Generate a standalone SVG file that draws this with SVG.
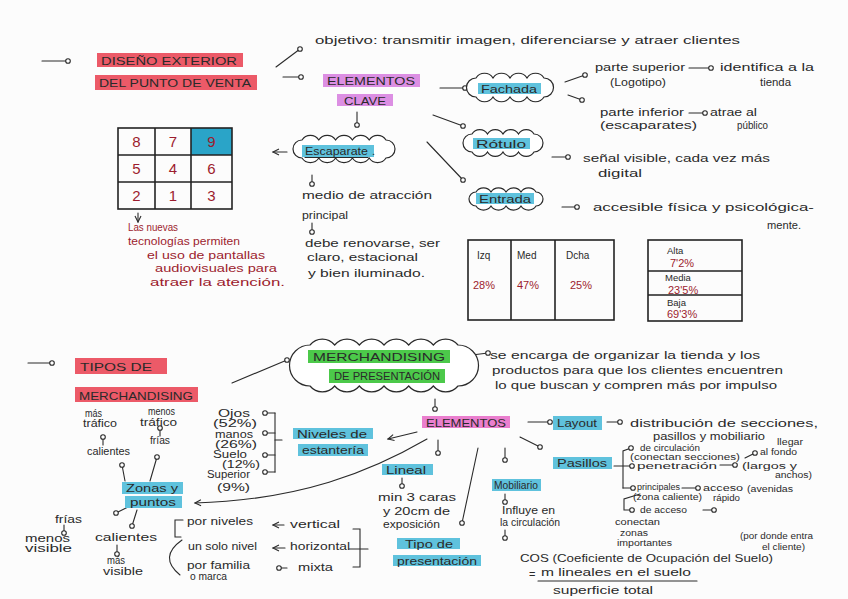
<svg xmlns="http://www.w3.org/2000/svg" width="848" height="599" viewBox="0 0 848 599">
<defs>
<marker id="o" markerWidth="8" markerHeight="8" refX="4" refY="4" markerUnits="userSpaceOnUse"><circle cx="4" cy="4" r="2.3" fill="#fff" stroke="#2a2a2a" stroke-width="1.1"/></marker>
<marker id="a" markerWidth="10" markerHeight="10" refX="7" refY="4" orient="auto" markerUnits="userSpaceOnUse"><path d="M1 1 L7 4 L1 7" fill="none" stroke="#2a2a2a" stroke-width="1.1"/></marker>
</defs>
<style>
text{font-family:"Liberation Sans",Arial,sans-serif;font-size:11px;fill:#2a2a2a}
.r{fill:#9c1c2e}
.s{font-size:8.5px}
.m{font-size:10px}
.cap{font-size:11.5px}
.num{font-size:15px;fill:#9c1c2e}
.ln{fill:none;stroke:#2a2a2a;stroke-width:1.1;stroke-linecap:round}
.cl{fill:#fff;stroke:#2a2a2a;stroke-width:1.2}
.hr{fill:#ec5a68}
.hp{fill:#dc8fe3}
.hm{fill:#ea7fce}
.hb{fill:#5fc2dd}
.hg{fill:#4cc94a}
.grid{fill:none;stroke:#222;stroke-width:1.6}
</style>
<rect x="0" y="0" width="848" height="599" fill="#fcfcfc"/>

<g id="connectors">
<line class="ln" x1="42" y1="61" x2="68" y2="61" marker-end="url(#o)"/>
<line class="ln" x1="276" y1="67" x2="300" y2="49" marker-end="url(#o)"/>
<line class="ln" x1="283" y1="77" x2="301" y2="77" marker-end="url(#o)"/>
<line class="ln" x1="440" y1="88" x2="465" y2="88" marker-end="url(#o)"/>
<line class="ln" x1="565" y1="82" x2="585" y2="75" marker-end="url(#o)"/>
<line class="ln" x1="568" y1="95" x2="582" y2="100" marker-end="url(#o)"/>
<line class="ln" x1="689" y1="68" x2="711" y2="68" marker-end="url(#o)"/>
<line class="ln" x1="689" y1="113" x2="705" y2="113" marker-end="url(#o)"/>
<line class="ln" x1="433" y1="115" x2="463" y2="126" marker-end="url(#o)"/>
<line class="ln" x1="427" y1="142" x2="463" y2="180" marker-end="url(#o)"/>
<line class="ln" x1="552" y1="157" x2="568" y2="157" marker-end="url(#o)"/>
<line class="ln" x1="562" y1="207" x2="577" y2="207" marker-end="url(#o)"/>
<line class="ln" x1="357" y1="112" x2="357" y2="125" marker-end="url(#o)"/>
<line class="ln" x1="287" y1="152" x2="273" y2="152" marker-end="url(#a)"/>
<line class="ln" x1="312" y1="175" x2="312" y2="184" marker-end="url(#o)"/>
<line class="ln" x1="312" y1="223" x2="312" y2="232" marker-end="url(#o)"/>
<line class="ln" x1="138" y1="213" x2="138" y2="222" marker-end="url(#a)"/>

<line class="ln" x1="28" y1="363" x2="52" y2="363" marker-end="url(#o)"/>
<line class="ln" x1="232" y1="383" x2="287" y2="360" marker-end="url(#o)"/>
<line class="ln" x1="472" y1="355" x2="488" y2="353" marker-end="url(#o)"/>
<line class="ln" x1="435" y1="399" x2="435" y2="409" marker-end="url(#o)"/>
<line class="ln" x1="528" y1="422" x2="550" y2="422" marker-end="url(#o)"/>
<line class="ln" x1="607" y1="422" x2="620" y2="422" marker-end="url(#o)"/>
<line class="ln" x1="417" y1="432" x2="388" y2="439" marker-end="url(#a)"/>
<path class="ln" d="M427 439 C370 472 300 500 195 503" marker-end="url(#a)"/>
<line class="ln" x1="438" y1="440" x2="438" y2="453" marker-end="url(#o)"/>
<line class="ln" x1="478" y1="448" x2="462" y2="523" marker-end="url(#o)"/>
<line class="ln" x1="505" y1="448" x2="505" y2="460" marker-end="url(#o)"/>
<line class="ln" x1="520" y1="437" x2="540" y2="447" marker-end="url(#o)"/>
<line class="ln" x1="402" y1="478" x2="402" y2="486" marker-end="url(#o)"/>
<line class="ln" x1="505" y1="494" x2="505" y2="502" marker-end="url(#o)"/>
<line class="ln" x1="505" y1="530" x2="505" y2="538" marker-end="url(#o)"/>

<line class="ln" x1="275" y1="413" x2="265" y2="413" marker-end="url(#o)"/>
<line class="ln" x1="275" y1="433" x2="265" y2="433" marker-end="url(#o)"/>
<line class="ln" x1="275" y1="455" x2="265" y2="455" marker-end="url(#o)"/>
<line class="ln" x1="275" y1="472" x2="265" y2="472" marker-end="url(#o)"/>
<line class="ln" x1="275" y1="413" x2="275" y2="472"/>
<line class="ln" x1="275" y1="440" x2="282" y2="440"/>

<line class="ln" x1="125" y1="481" x2="122" y2="465" marker-end="url(#o)"/>
<line class="ln" x1="150" y1="481" x2="157" y2="457" marker-end="url(#o)"/>
<line class="ln" x1="103" y1="445" x2="103" y2="437" marker-end="url(#o)"/>
<line class="ln" x1="160" y1="436" x2="160" y2="428" marker-end="url(#o)"/>
<line class="ln" x1="128" y1="507" x2="116" y2="513" marker-end="url(#o)"/>
<line class="ln" x1="137" y1="510" x2="132" y2="526" marker-end="url(#o)"/>
<line class="ln" x1="64" y1="525" x2="64" y2="533" marker-end="url(#o)"/>
<line class="ln" x1="117" y1="545" x2="117" y2="554" marker-end="url(#o)"/>

<path class="ln" d="M183 520 L175 520 L175 537 L181 537"/>
<path class="ln" d="M182 540 Q158 557 180 575"/>
<line class="ln" x1="284" y1="525" x2="273" y2="525" marker-end="url(#a)"/>
<line class="ln" x1="285" y1="548" x2="273" y2="548" marker-end="url(#a)"/>
<line class="ln" x1="287" y1="568" x2="279" y2="568" marker-end="url(#o)"/>
<path class="ln" d="M353 529 L360 529 L360 567 L353 567"/>
<line class="ln" x1="349" y1="549" x2="368" y2="549"/>

<path class="ln" d="M614 466 L632 466" marker-end="url(#o)"/>
<path class="ln" d="M623 488 L623 451 L631 448" marker-end="url(#o)"/>
<path class="ln" d="M623 488 L633 488" marker-end="url(#o)"/>
<path class="ln" d="M640 494 L624 499 L624 510 L632 510" marker-end="url(#o)"/>
<line class="ln" x1="720" y1="465" x2="735" y2="465" marker-end="url(#o)"/>
<line class="ln" x1="745" y1="458" x2="755" y2="453" marker-end="url(#o)"/>
<line class="ln" x1="682" y1="488" x2="698" y2="488" marker-end="url(#o)"/>
<line class="ln" x1="703" y1="510" x2="714" y2="510" marker-end="url(#o)"/>
<line class="ln" x1="538" y1="581" x2="697" y2="581"/>
</g>

<g id="titulo-diseno">
<rect class="hr" x="97" y="53" width="146" height="14"/>
<rect class="hr" x="95" y="75" width="162" height="15"/>
<text class="cap" x="101" y="65" textLength="136" lengthAdjust="spacingAndGlyphs">DISEÑO EXTERIOR</text>
<text class="cap" x="99" y="87" textLength="152" lengthAdjust="spacingAndGlyphs">DEL PUNTO DE VENTA</text>
</g>

<g id="objetivo">
<text x="315" y="44" textLength="425" lengthAdjust="spacingAndGlyphs">objetivo: transmitir imagen, diferenciarse y atraer clientes</text>
</g>

<g id="elementos-clave">
<rect class="hp" x="323" y="74" width="97" height="13"/>
<rect class="hp" x="337" y="94" width="56" height="12"/>
<text x="327" y="85" textLength="88" lengthAdjust="spacingAndGlyphs">ELEMENTOS</text>
<text x="344" y="104.5" textLength="42" lengthAdjust="spacingAndGlyphs">CLAVE</text>
</g>

<g id="fachada">
<path class="cl" d="M476 78 a10 10 0 0 1 17 0 a10 10 0 0 1 17 0 a10 10 0 0 1 17 0 a10 10 0 0 1 17 0 a9.5 9.5 0 0 1 0 19 a10 10 0 0 1 -17 0 a10 10 0 0 1 -17 0 a10 10 0 0 1 -17 0 a10 10 0 0 1 -17 0 a9.5 9.5 0 0 1 0 -19 Z"/>
<rect class="hb" x="478" y="83" width="63" height="11"/>
<text x="481" y="92.5" textLength="56" lengthAdjust="spacingAndGlyphs">Fachada</text>
</g>

<g id="fachada-partes">
<text x="595" y="71" textLength="90" lengthAdjust="spacingAndGlyphs">parte superior</text>
<text x="720" y="71" textLength="94" lengthAdjust="spacingAndGlyphs">identifica a la</text>
<text x="610" y="86" textLength="56" lengthAdjust="spacingAndGlyphs">(Logotipo)</text>
<text x="760" y="86" textLength="31" lengthAdjust="spacingAndGlyphs">tienda</text>
<text x="600" y="116" textLength="84" lengthAdjust="spacingAndGlyphs">parte inferior</text>
<text x="710" y="116" textLength="47" lengthAdjust="spacingAndGlyphs">atrae al</text>
<text x="600" y="129" textLength="97" lengthAdjust="spacingAndGlyphs">(escaparates)</text>
<text x="737" y="129" textLength="31" lengthAdjust="spacingAndGlyphs">público</text>
</g>

<g id="rotulo">
<path class="cl" d="M472 134 a9 9 0 0 1 15.5 0 a9 9 0 0 1 15.5 0 a9 9 0 0 1 15.5 0 a9 9 0 0 1 15.5 0 a9 9 0 0 1 0 18 a9 9 0 0 1 -15.5 0 a9 9 0 0 1 -15.5 0 a9 9 0 0 1 -15.5 0 a9 9 0 0 1 -15.5 0 a9 9 0 0 1 0 -18 Z"/>
<rect class="hb" x="473" y="138" width="57" height="11"/>
<text x="476" y="147.5" textLength="50" lengthAdjust="spacingAndGlyphs">Rótulo</text>
</g>
<g id="rotulo-desc">
<text x="583" y="162" textLength="187" lengthAdjust="spacingAndGlyphs">señal visible, cada vez más</text>
<text x="598" y="177" textLength="44" lengthAdjust="spacingAndGlyphs">digital</text>
</g>

<g id="entrada">
<path class="cl" d="M476 192 a9 9 0 0 1 15 0 a9 9 0 0 1 15 0 a9 9 0 0 1 15 0 a9 9 0 0 1 15 0 a7 7 0 0 1 0 14 a9 9 0 0 1 -15 0 a9 9 0 0 1 -15 0 a9 9 0 0 1 -15 0 a9 9 0 0 1 -15 0 a7 7 0 0 1 0 -14 Z"/>
<rect class="hb" x="476" y="193" width="58" height="11"/>
<text x="479" y="202.5" textLength="52" lengthAdjust="spacingAndGlyphs">Entrada</text>
</g>
<g id="entrada-desc">
<text x="593" y="211" textLength="221" lengthAdjust="spacingAndGlyphs">accesible física y psicológica-</text>
<text x="767" y="229" textLength="34" lengthAdjust="spacingAndGlyphs">mente.</text>
</g>

<g id="escaparate">
<path class="cl" d="M302 140 a10 10 0 0 1 16.8 0 a10 10 0 0 1 16.8 0 a10 10 0 0 1 16.8 0 a10 10 0 0 1 16.8 0 a10 10 0 0 1 16.8 0 a9 9 0 0 1 0 18 a10 10 0 0 1 -16.8 0 a10 10 0 0 1 -16.8 0 a10 10 0 0 1 -16.8 0 a10 10 0 0 1 -16.8 0 a10 10 0 0 1 -16.8 0 a9 9 0 0 1 0 -18 Z"/>
<rect class="hb" x="302" y="145" width="72" height="12"/>
<text x="305" y="155" textLength="63" lengthAdjust="spacingAndGlyphs">Escaparate</text>
<line class="ln" x1="305" y1="157.5" x2="368" y2="157.5"/>
<text x="372" y="155">.</text>
</g>

<g id="escaparate-desc">
<text x="302" y="199" textLength="130" lengthAdjust="spacingAndGlyphs">medio de atracción</text>
<text x="302" y="219" textLength="46" lengthAdjust="spacingAndGlyphs">principal</text>
<text x="305" y="247" textLength="135" lengthAdjust="spacingAndGlyphs">debe renovarse, ser</text>
<text x="307" y="261" textLength="111" lengthAdjust="spacingAndGlyphs">claro, estacional</text>
<text x="308" y="277" textLength="117" lengthAdjust="spacingAndGlyphs">y bien iluminado.</text>
</g>

<g id="cuadricula">
<rect x="191" y="128" width="41" height="27" fill="#2aa4c8"/>
<rect class="grid" x="118" y="128" width="114" height="81"/>
<line class="grid" x1="155" y1="128" x2="155" y2="209"/>
<line class="grid" x1="191" y1="128" x2="191" y2="209"/>
<line class="grid" x1="118" y1="155" x2="232" y2="155"/>
<line class="grid" x1="118" y1="182" x2="232" y2="182"/>
<text class="num" x="136.5" y="147" text-anchor="middle">8</text>
<text class="num" x="173" y="147" text-anchor="middle">7</text>
<text class="num" x="211.5" y="147" text-anchor="middle">9</text>
<text class="num" x="136.5" y="174" text-anchor="middle">5</text>
<text class="num" x="173" y="174" text-anchor="middle">4</text>
<text class="num" x="211.5" y="174" text-anchor="middle">6</text>
<text class="num" x="136.5" y="201" text-anchor="middle">2</text>
<text class="num" x="173" y="201" text-anchor="middle">1</text>
<text class="num" x="211.5" y="201" text-anchor="middle">3</text>
</g>

<g id="nuevas-tecnologias">
<text class="r" x="128" y="231" textLength="50" lengthAdjust="spacingAndGlyphs">Las nuevas</text>
<text class="r" x="128" y="245" textLength="112" lengthAdjust="spacingAndGlyphs">tecnologías permiten</text>
<text class="r" x="147" y="259" textLength="118" lengthAdjust="spacingAndGlyphs">el uso de pantallas</text>
<text class="r" x="155" y="272" textLength="122" lengthAdjust="spacingAndGlyphs">audiovisuales para</text>
<text class="r" x="150" y="286" textLength="135" lengthAdjust="spacingAndGlyphs">atraer la atención.</text>
</g>

<g id="tabla-lateral">
<rect class="grid" x="468" y="240" width="146" height="80"/>
<line class="grid" x1="511" y1="240" x2="511" y2="320"/>
<line class="grid" x1="555" y1="240" x2="555" y2="320"/>
<text class="m" x="477" y="259">Izq</text>
<text class="m" x="517" y="259">Med</text>
<text class="m" x="566" y="259">Dcha</text>
<text class="r" x="473" y="289">28%</text>
<text class="r" x="517" y="289">47%</text>
<text class="r" x="570" y="289">25%</text>
</g>

<g id="tabla-altura">
<rect class="grid" x="648" y="240" width="94" height="81"/>
<line class="grid" x1="648" y1="271" x2="742" y2="271"/>
<line class="grid" x1="648" y1="295" x2="742" y2="295"/>
<text class="m" x="667" y="254" style="font-size:9.5px">Alta</text>
<text class="r" x="670" y="267">7'2%</text>
<text class="m" x="665" y="281" style="font-size:9.5px">Media</text>
<text class="r" x="668" y="294">23'5%</text>
<text class="m" x="667" y="306" style="font-size:9.5px">Baja</text>
<text class="r" x="667" y="318">69'3%</text>
</g>

<g id="titulo-tipos">
<rect class="hr" x="75" y="358" width="92" height="16"/>
<rect class="hr" x="75" y="387" width="123" height="15"/>
<text class="cap" x="80" y="371" textLength="72" lengthAdjust="spacingAndGlyphs">TIPOS DE</text>
<text class="cap" x="79" y="400" textLength="114" lengthAdjust="spacingAndGlyphs">MERCHANDISING</text>
</g>

<g id="merchandising-presentacion">
<path class="cl" d="M310 345 a16 16 0 0 1 24.67 0 a16 16 0 0 1 24.67 0 a16 16 0 0 1 24.67 0 a16 16 0 0 1 24.67 0 a16 16 0 0 1 24.67 0 a16 16 0 0 1 24.67 0 a20.5 20.5 0 0 1 0 41 a16 16 0 0 1 -24.67 0 a16 16 0 0 1 -24.67 0 a16 16 0 0 1 -24.67 0 a16 16 0 0 1 -24.67 0 a16 16 0 0 1 -24.67 0 a16 16 0 0 1 -24.67 0 a20.5 20.5 0 0 1 0 -41 Z"/>
<rect class="hg" x="308" y="350" width="142" height="13"/>
<rect class="hg" x="329" y="369" width="116" height="14"/>
<text x="313" y="361" textLength="132" lengthAdjust="spacingAndGlyphs">MERCHANDISING</text>
<text x="334" y="380" textLength="106" lengthAdjust="spacingAndGlyphs">DE PRESENTACIÓN</text>
</g>

<g id="merchandising-desc">
<text x="490" y="359" textLength="270" lengthAdjust="spacingAndGlyphs">se encarga de organizar la tienda y los</text>
<text x="492" y="374" textLength="291" lengthAdjust="spacingAndGlyphs">productos para que los clientes encuentren</text>
<text x="495" y="389" textLength="282" lengthAdjust="spacingAndGlyphs">lo que buscan y compren más por impulso</text>
</g>

<g id="elementos">
<rect class="hm" x="422" y="416" width="88" height="12"/>
<text x="426" y="426.5" textLength="80" lengthAdjust="spacingAndGlyphs">ELEMENTOS</text>
</g>

<g id="layout">
<rect class="hb" x="553" y="416" width="49" height="14"/>
<text x="557" y="427" textLength="40" lengthAdjust="spacingAndGlyphs">Layout</text>
</g>
<g id="layout-desc">
<text x="630" y="427" textLength="188" lengthAdjust="spacingAndGlyphs">distribución de secciones,</text>
<text x="653" y="440" textLength="112" lengthAdjust="spacingAndGlyphs">pasillos y mobiliario</text>
</g>

<g id="niveles">
<rect class="hb" x="293" y="428" width="80" height="11"/>
<rect class="hb" x="298" y="444" width="70" height="12"/>
<text x="297" y="437.5" textLength="70" lengthAdjust="spacingAndGlyphs">Niveles de</text>
<text x="302" y="454" textLength="62" lengthAdjust="spacingAndGlyphs">estantería</text>
</g>
<g id="niveles-lista">
<text class="m" x="218" y="417" textLength="32" lengthAdjust="spacingAndGlyphs">Ojos</text>
<text class="m" x="213" y="427" textLength="44" lengthAdjust="spacingAndGlyphs">(52%)</text>
<text class="m" x="215" y="438" textLength="38" lengthAdjust="spacingAndGlyphs">manos</text>
<text class="m" x="215" y="448" textLength="42" lengthAdjust="spacingAndGlyphs">(26%)</text>
<text class="m" x="213" y="458" textLength="34" lengthAdjust="spacingAndGlyphs">Suelo</text>
<text class="m" x="222" y="468" textLength="38" lengthAdjust="spacingAndGlyphs">(12%)</text>
<text class="m" x="207" y="478" textLength="43" lengthAdjust="spacingAndGlyphs">Superior</text>
<text class="m" x="217" y="491" textLength="33" lengthAdjust="spacingAndGlyphs">(9%)</text>
</g>

<g id="zonas">
<rect class="hb" x="122" y="482" width="61" height="12"/>
<rect class="hb" x="125" y="496" width="57" height="12"/>
<text x="126" y="492" textLength="52" lengthAdjust="spacingAndGlyphs">Zonas y</text>
<text x="130" y="506" textLength="46" lengthAdjust="spacingAndGlyphs">puntos</text>
</g>
<g id="zonas-trafico">
<text class="m" x="85" y="417" textLength="17" lengthAdjust="spacingAndGlyphs">más</text>
<text class="m" x="83" y="427" textLength="34" lengthAdjust="spacingAndGlyphs">tráfico</text>
<text class="m" x="87" y="455" textLength="43" lengthAdjust="spacingAndGlyphs">calientes</text>
<text class="m" x="148" y="415" textLength="27" lengthAdjust="spacingAndGlyphs">menos</text>
<text class="m" x="140" y="426" textLength="37" lengthAdjust="spacingAndGlyphs">tráfico</text>
<text class="m" x="150" y="444" textLength="20" lengthAdjust="spacingAndGlyphs">frías</text>
</g>
<g id="zonas-visibilidad">
<text class="m" x="55" y="523" textLength="27" lengthAdjust="spacingAndGlyphs">frías</text>
<text class="m" x="25" y="542" textLength="45" lengthAdjust="spacingAndGlyphs">menos</text>
<text class="m" x="25" y="552" textLength="47" lengthAdjust="spacingAndGlyphs">visible</text>
<text class="m" x="95" y="541" textLength="62" lengthAdjust="spacingAndGlyphs">calientes</text>
<text class="m" x="107" y="564" textLength="18" lengthAdjust="spacingAndGlyphs">más</text>
<text class="m" x="103" y="575" textLength="40" lengthAdjust="spacingAndGlyphs">visible</text>
</g>

<g id="tipo-presentacion-lista">
<text class="m" x="187" y="525" textLength="66" lengthAdjust="spacingAndGlyphs">por niveles</text>
<text class="m" x="188" y="550" textLength="69" lengthAdjust="spacingAndGlyphs">un solo nivel</text>
<text class="m" x="187" y="569" textLength="63" lengthAdjust="spacingAndGlyphs">por familia</text>
<text class="m" x="190" y="580" textLength="37" lengthAdjust="spacingAndGlyphs">o marca</text>
<text class="m" x="290" y="528" textLength="50" lengthAdjust="spacingAndGlyphs">vertical</text>
<text class="m" x="290" y="550" textLength="60" lengthAdjust="spacingAndGlyphs">horizontal</text>
<text class="m" x="298" y="571" textLength="35" lengthAdjust="spacingAndGlyphs">mixta</text>
</g>

<g id="lineal">
<rect class="hb" x="382" y="464" width="51" height="11"/>
<text x="386" y="473.5" textLength="40" lengthAdjust="spacingAndGlyphs">Lineal</text>
</g>
<g id="lineal-desc">
<text x="378" y="501" textLength="78" lengthAdjust="spacingAndGlyphs">min 3 caras</text>
<text x="383" y="515" textLength="67" lengthAdjust="spacingAndGlyphs">y 20cm de</text>
<text x="383" y="528" textLength="57" lengthAdjust="spacingAndGlyphs">exposición</text>
</g>

<g id="tipo-presentacion">
<rect class="hb" x="397" y="538" width="63" height="11"/>
<rect class="hb" x="393" y="555" width="88" height="11"/>
<text x="405" y="547.5" textLength="48" lengthAdjust="spacingAndGlyphs">Tipo de</text>
<text x="397" y="564.5" textLength="80" lengthAdjust="spacingAndGlyphs">presentación</text>
</g>

<g id="pasillos">
<rect class="hb" x="553" y="457" width="59" height="12"/>
<text x="557" y="467" textLength="50" lengthAdjust="spacingAndGlyphs">Pasillos</text>
</g>
<g id="pasillos-desc">
<text class="s" x="640" y="450.5" textLength="60" lengthAdjust="spacingAndGlyphs">de circulación</text>
<text class="s" x="630" y="459.5" textLength="110" lengthAdjust="spacingAndGlyphs">(conectan secciones)</text>
<text class="s" x="637" y="469" textLength="80" lengthAdjust="spacingAndGlyphs">penetración</text>
<text class="s" x="777" y="445" textLength="26" lengthAdjust="spacingAndGlyphs">llegar</text>
<text class="s" x="760" y="455" textLength="37" lengthAdjust="spacingAndGlyphs">al fondo</text>
<text class="s" x="742" y="469" textLength="55" lengthAdjust="spacingAndGlyphs">(largos y</text>
<text class="s" x="775" y="478" textLength="37" lengthAdjust="spacingAndGlyphs">anchos)</text>
<text class="s" x="637" y="490" textLength="43" lengthAdjust="spacingAndGlyphs">principales</text>
<text class="s" x="633" y="500" textLength="69" lengthAdjust="spacingAndGlyphs">(zona caliente)</text>
<text class="s" x="703" y="491" textLength="40" lengthAdjust="spacingAndGlyphs">acceso</text>
<text class="s" x="713" y="501" textLength="27" lengthAdjust="spacingAndGlyphs">rápido</text>
<text class="s" x="747" y="492" textLength="46" lengthAdjust="spacingAndGlyphs">(avenidas</text>
<text class="s" x="640" y="513" textLength="47" lengthAdjust="spacingAndGlyphs">de acceso</text>
<text class="s" x="615" y="525" textLength="45" lengthAdjust="spacingAndGlyphs">conectan</text>
<text class="s" x="620" y="536" textLength="28" lengthAdjust="spacingAndGlyphs">zonas</text>
<text class="s" x="617" y="546" textLength="55" lengthAdjust="spacingAndGlyphs">importantes</text>
<text class="s" x="740" y="539" textLength="73" lengthAdjust="spacingAndGlyphs">(por donde entra</text>
<text class="s" x="762" y="550" textLength="43" lengthAdjust="spacingAndGlyphs">el cliente)</text>
</g>

<g id="mobiliario">
<rect class="hb" x="492" y="479" width="49" height="12"/>
<text x="494" y="489" textLength="44" lengthAdjust="spacingAndGlyphs">Mobiliario</text>
</g>
<g id="mobiliario-desc">
<text class="m" x="502" y="514" textLength="53" lengthAdjust="spacingAndGlyphs">Influye en</text>
<text class="m" x="500" y="526" textLength="60" lengthAdjust="spacingAndGlyphs">la circulación</text>
<text x="520" y="562" textLength="253" lengthAdjust="spacingAndGlyphs">COS (Coeficiente de Ocupación del Suelo)</text>
<text x="529" y="578">=</text>
<text x="541" y="576" textLength="150" lengthAdjust="spacingAndGlyphs">m lineales en el suelo</text>
<text x="553" y="594" textLength="100" lengthAdjust="spacingAndGlyphs">superficie total</text>
</g>
</svg>
